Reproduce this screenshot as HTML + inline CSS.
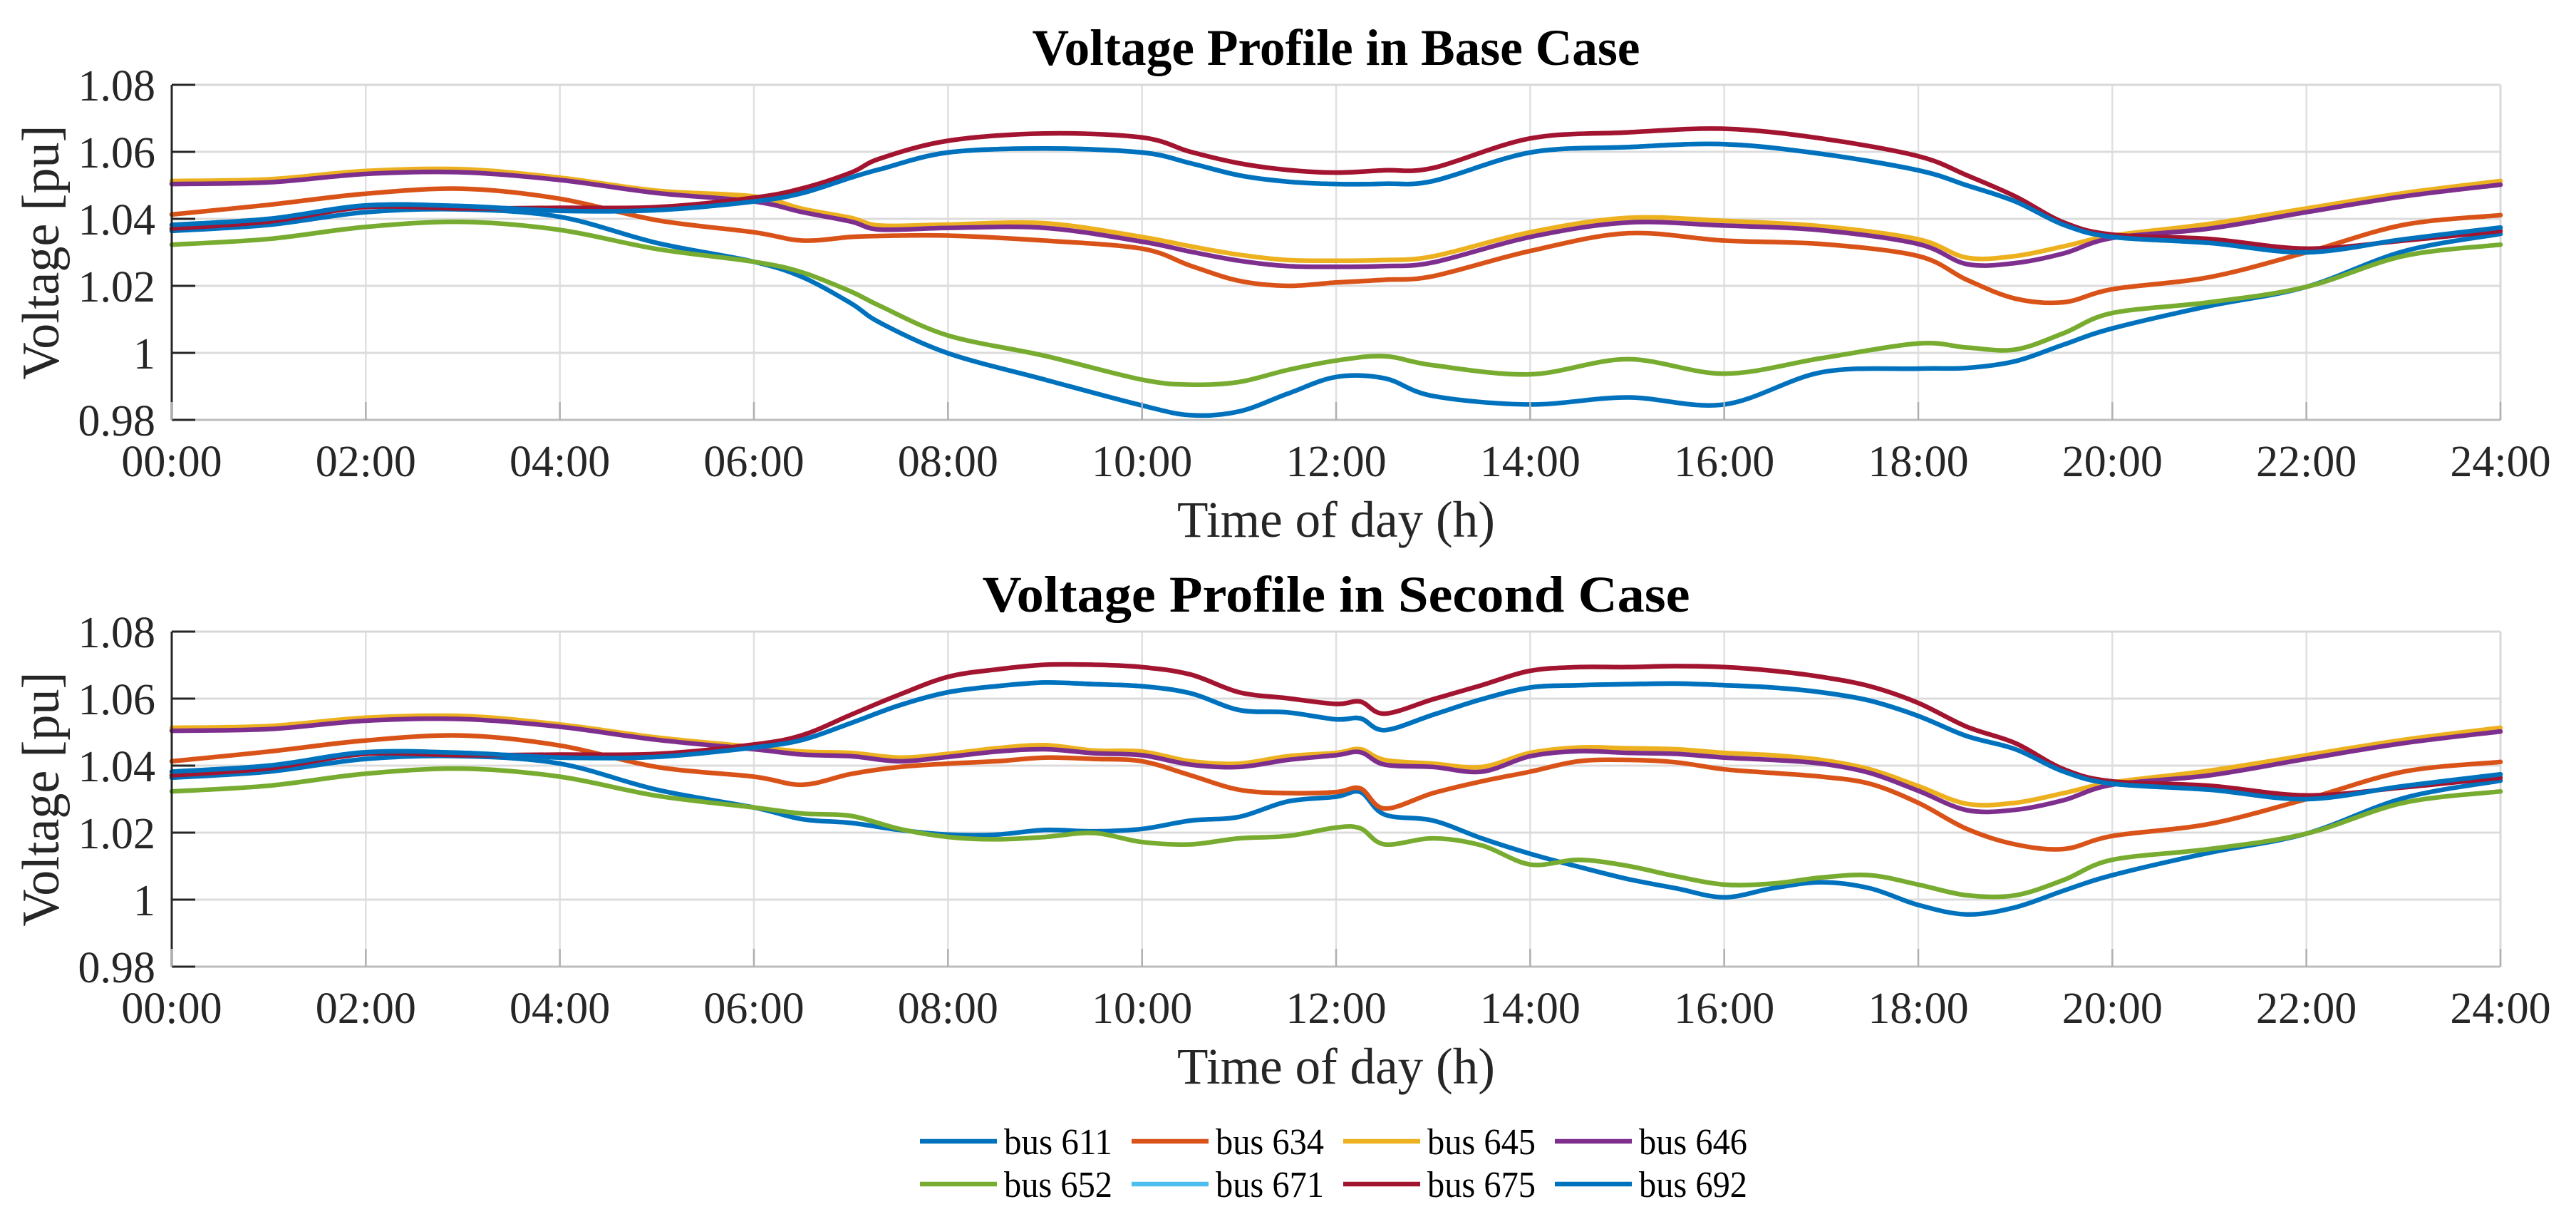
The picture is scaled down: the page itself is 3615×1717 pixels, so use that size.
<!DOCTYPE html>
<html><head><meta charset="utf-8"><title>Voltage Profile</title>
<style>
html,body{margin:0;padding:0;background:#fff;}
svg{display:block;}
text{font-family:"Liberation Serif","Times New Roman",serif;fill:#262626;}
</style></head>
<body>
<svg id="chart" width="3615" height="1717" viewBox="0 0 3615 1717" xmlns="http://www.w3.org/2000/svg">
<rect x="0" y="0" width="3615" height="1717" fill="#fff"/>
</svg>
<script>
// ---- data ----
const seriesNames = ["bus 611","bus 634","bus 645","bus 646","bus 652","bus 671","bus 675","bus 692"];
const seriesColors = ["#0072BD","#D95319","#EDB120","#7E2F8E","#77AC30","#4DBEEE","#A2142F","#0072BD"];
const xTickLabels = ["00:00","02:00","04:00","06:00","08:00","10:00","12:00","14:00","16:00","18:00","20:00","22:00","24:00"];
const yTickValues = [0.98,1.00,1.02,1.04,1.06,1.08];
const yTickLabels = ["0.98","1","1.02","1.04","1.06","1.08"];

const baseHours = [0,1,2,3,4,5,6,6.5,7,7.3,8,9,10,10.5,11,11.5,12,12.5,13,14,15,16,17,18,18.5,19,19.5,20,21,22,23,24];
const base611 = [1.0364,1.0382,1.0420,1.0428,1.0406,1.0328,1.0272,1.0226,1.0148,1.0090,0.9999,0.9920,0.9843,0.9814,0.9825,0.9878,0.9928,0.9924,0.9871,0.9846,0.9867,0.9846,0.9942,0.9953,0.9955,0.9975,1.0025,1.0073,1.0140,1.0197,1.0303,1.0355];
const base634 = [1.0413,1.0442,1.0475,1.0490,1.0460,1.0396,1.0360,1.0335,1.0346,1.0349,1.0350,1.0335,1.0311,1.0260,1.0215,1.0200,1.0210,1.0218,1.0229,1.0304,1.0357,1.0335,1.0325,1.0289,1.0218,1.0162,1.0151,1.0190,1.0226,1.0300,1.0382,1.0411];
const base645 = [1.0513,1.0518,1.0543,1.0548,1.0523,1.0484,1.0467,1.0430,1.0403,1.0380,1.0383,1.0387,1.0346,1.0318,1.0293,1.0277,1.0275,1.0277,1.0288,1.0360,1.0403,1.0394,1.0378,1.0339,1.0284,1.0289,1.0318,1.0350,1.0385,1.0431,1.0477,1.0513];
const base646 = [1.0504,1.0509,1.0534,1.0539,1.0516,1.0477,1.0452,1.0420,1.0392,1.0368,1.0373,1.0373,1.0332,1.0302,1.0275,1.0259,1.0257,1.0259,1.0270,1.0346,1.0389,1.0380,1.0366,1.0325,1.0265,1.0268,1.0297,1.0343,1.0371,1.0420,1.0467,1.0502];
const base652 = [1.0323,1.0340,1.0376,1.0391,1.0367,1.0310,1.0272,1.0240,1.0183,1.0140,1.0052,0.9991,0.9920,0.9905,0.9913,0.9949,0.9977,0.9990,0.9963,0.9936,0.9981,0.9938,0.9984,1.0028,1.0016,1.0010,1.0059,1.0119,1.0151,1.0197,1.0289,1.0323];
const base671 = [1.0382,1.0400,1.0440,1.0438,1.0424,1.0426,1.0452,1.0477,1.0523,1.0548,1.0598,1.0610,1.0598,1.0566,1.0530,1.0511,1.0504,1.0505,1.0513,1.0598,1.0614,1.0623,1.0594,1.0545,1.0500,1.0452,1.0382,1.0346,1.0328,1.0300,1.0339,1.0374];
const base675 = [1.0371,1.0392,1.0435,1.0431,1.0433,1.0435,1.0463,1.0491,1.0538,1.0580,1.0633,1.0655,1.0643,1.0600,1.0566,1.0546,1.0538,1.0545,1.0552,1.0640,1.0658,1.0669,1.0640,1.0587,1.0530,1.0467,1.0389,1.0353,1.0340,1.0311,1.0335,1.0364];
const base692 = [1.0382,1.0400,1.0440,1.0438,1.0424,1.0426,1.0452,1.0477,1.0523,1.0548,1.0598,1.0610,1.0598,1.0566,1.0530,1.0511,1.0504,1.0505,1.0513,1.0598,1.0614,1.0623,1.0594,1.0545,1.0500,1.0452,1.0382,1.0346,1.0328,1.0300,1.0339,1.0374];

const secHours = [0,1,2,3,4,5,6,6.5,7,7.5,8,8.5,9,9.5,10,10.5,11,11.5,12,12.25,12.5,13,13.5,14,14.5,15,15.5,16,16.5,17,17.5,18,18.5,19,19.5,20,21,22,23,24];
const sec611 = [1.0364,1.0382,1.0420,1.0428,1.0406,1.0328,1.0275,1.0240,1.0229,1.0208,1.0194,1.0194,1.0208,1.0204,1.0211,1.0236,1.0247,1.0293,1.0307,1.0321,1.0254,1.0236,1.0183,1.0137,1.0098,1.0062,1.0034,1.0007,1.0034,1.0052,1.0034,0.9984,0.9956,0.9977,1.0027,1.0073,1.0140,1.0197,1.0303,1.0355];
const sec634 = [1.0413,1.0442,1.0475,1.0490,1.0460,1.0396,1.0367,1.0343,1.0375,1.0396,1.0406,1.0413,1.0424,1.0420,1.0413,1.0371,1.0328,1.0318,1.0321,1.0332,1.0272,1.0318,1.0353,1.0382,1.0413,1.0417,1.0410,1.0389,1.0378,1.0367,1.0346,1.0289,1.0211,1.0165,1.0151,1.0190,1.0226,1.0300,1.0382,1.0411];
const sec645 = [1.0513,1.0518,1.0543,1.0548,1.0523,1.0484,1.0456,1.0442,1.0438,1.0424,1.0435,1.0452,1.0461,1.0445,1.0442,1.0413,1.0406,1.0428,1.0438,1.0449,1.0417,1.0406,1.0396,1.0438,1.0454,1.0452,1.0449,1.0438,1.0431,1.0417,1.0389,1.0339,1.0286,1.0289,1.0318,1.0350,1.0385,1.0431,1.0477,1.0513];
const sec646 = [1.0504,1.0509,1.0534,1.0539,1.0516,1.0477,1.0449,1.0433,1.0428,1.0413,1.0426,1.0442,1.0449,1.0437,1.0431,1.0403,1.0396,1.0417,1.0431,1.0440,1.0403,1.0396,1.0382,1.0428,1.0443,1.0438,1.0435,1.0424,1.0417,1.0406,1.0378,1.0325,1.0267,1.0268,1.0297,1.0343,1.0371,1.0420,1.0467,1.0502];
const sec652 = [1.0323,1.0340,1.0376,1.0391,1.0367,1.0310,1.0275,1.0257,1.0250,1.0211,1.0187,1.0180,1.0187,1.0199,1.0172,1.0165,1.0183,1.0190,1.0215,1.0213,1.0165,1.0183,1.0162,1.0105,1.0119,1.0101,1.0070,1.0045,1.0048,1.0066,1.0073,1.0045,1.0013,1.0013,1.0059,1.0119,1.0151,1.0197,1.0289,1.0323];
const sec671 = [1.0382,1.0400,1.0440,1.0438,1.0424,1.0426,1.0454,1.0477,1.0527,1.0580,1.0619,1.0637,1.0648,1.0643,1.0637,1.0616,1.0566,1.0559,1.0538,1.0541,1.0506,1.0552,1.0598,1.0633,1.0640,1.0643,1.0645,1.0640,1.0633,1.0619,1.0594,1.0548,1.0488,1.0449,1.0382,1.0346,1.0328,1.0300,1.0339,1.0374];
const sec675 = [1.0371,1.0392,1.0435,1.0431,1.0433,1.0435,1.0463,1.0491,1.0552,1.0612,1.0665,1.0687,1.0701,1.0701,1.0694,1.0672,1.0619,1.0601,1.0584,1.0591,1.0555,1.0598,1.0640,1.0683,1.0694,1.0694,1.0697,1.0694,1.0683,1.0665,1.0637,1.0587,1.0516,1.0467,1.0389,1.0353,1.0340,1.0311,1.0335,1.0364];
const sec692 = [1.0382,1.0400,1.0440,1.0438,1.0424,1.0426,1.0454,1.0477,1.0527,1.0580,1.0619,1.0637,1.0648,1.0643,1.0637,1.0616,1.0566,1.0559,1.0538,1.0541,1.0506,1.0552,1.0598,1.0633,1.0640,1.0643,1.0645,1.0640,1.0633,1.0619,1.0594,1.0548,1.0488,1.0449,1.0382,1.0346,1.0328,1.0300,1.0339,1.0374];

const baseSeries = [base611,base634,base645,base646,base652,base671,base675,base692];
const secSeries = [sec611,sec634,sec645,sec646,sec652,sec671,sec675,sec692];

// ---- drawing ----
const NS = "http://www.w3.org/2000/svg";
const svg = document.getElementById("chart");
function mk(tag, attrs, parent){
  const e = document.createElementNS(NS, tag);
  for (const k in attrs) e.setAttribute(k, attrs[k]);
  (parent||svg).appendChild(e);
  return e;
}
const X0 = 241, X1 = 3509, YMIN = 0.98, YMAX = 1.08, HMAX = 24;

function smoothPath(pts){
  let d = "M" + pts[0][0].toFixed(1) + "," + pts[0][1].toFixed(1);
  for (let i = 0; i < pts.length - 1; i++){
    const p0 = pts[Math.max(0,i-1)], p1 = pts[i], p2 = pts[i+1], p3 = pts[Math.min(pts.length-1,i+2)];
    const t = 1/6;
    const c1x = p1[0] + (p2[0]-p0[0])*t, c1y = p1[1] + (p2[1]-p0[1])*t;
    const c2x = p2[0] - (p3[0]-p1[0])*t, c2y = p2[1] - (p3[1]-p1[1])*t;
    d += " C" + c1x.toFixed(1) + "," + c1y.toFixed(1) + " " + c2x.toFixed(1) + "," + c2y.toFixed(1) + " " + p2[0].toFixed(1) + "," + p2[1].toFixed(1);
  }
  return d;
}

function drawPanel(key, top, bottom, title, titleLen, hours, series){
  const xS = h => X0 + (h / HMAX) * (X1 - X0);
  const yS = v => bottom - (v - YMIN) / (YMAX - YMIN) * (bottom - top);
  const g = mk("g", {});
  
  

  // grid
  const grid = mk("g", {}, g);
  
  
  for (let i = 0; i < xTickLabels.length; i++){
    const x = xS(i*2);
    const gl = mk("line", {x1:x, x2:x, y1:top, y2:bottom, stroke:"#e0e0e0", "stroke-width":2.5}, grid);
    
    
  }
  for (let i = 0; i < yTickValues.length; i++){
    const y = yS(yTickValues[i]);
    const gl = mk("line", {x1:X0, x2:X1, y1:y, y2:y, stroke:"#dcdcdc", "stroke-width":3}, grid);
    
    
  }
  // box
  mk("line", {x1:X0, x2:X1, y1:top, y2:top, stroke:"#d8d8d8", "stroke-width":3}, g);
  mk("line", {x1:X1, x2:X1, y1:top, y2:bottom, stroke:"#d8d8d8", "stroke-width":3}, g);
  const xa = mk("line", {x1:X0, x2:X1, y1:bottom, y2:bottom, stroke:"#bdbdbd", "stroke-width":3}, g);
  
  

  // series
  const sg = mk("g", {fill:"none", "stroke-width":6.5, "stroke-linejoin":"round", "stroke-linecap":"round"}, g);
  
  
  for (let s = 0; s < series.length; s++){
    const pts = hours.map((h, i) => [xS(h), yS(series[s][i])]);
    const p = mk("path", {d: smoothPath(pts), stroke: seriesColors[s]}, sg);
    
    
  }

  // y axis
  const ya = mk("line", {x1:X0, x2:X0, y1:top, y2:bottom, stroke:"#262626", "stroke-width":3}, g);
  
  
  for (let i = 0; i < yTickValues.length; i++){
    const y = yS(yTickValues[i]);
    mk("line", {x1:X0, x2:X0+33, y1:y, y2:y, stroke:"#262626", "stroke-width":3}, g);
    const t = mk("text", {x:218, y:y+22, "font-size":62, "text-anchor":"end"}, g);
    t.textContent = yTickLabels[i];
    
    
  }
  for (let i = 0; i < xTickLabels.length; i++){
    const x = xS(i*2);
    mk("line", {x1:x, x2:x, y1:bottom-25, y2:bottom, stroke:"#b0b0b0", "stroke-width":2.5}, g);
    const t = mk("text", {x:x, y:bottom+79, "font-size":62, "text-anchor":"middle"}, g);
    t.textContent = xTickLabels[i];
    
    
  }
  // titles
  const tt = mk("text", {x:(X0+X1)/2, y:top-28, "font-size":72, "font-weight":"bold", "text-anchor":"middle", textLength:titleLen, lengthAdjust:"spacingAndGlyphs"}, g);
  tt.textContent = title;
  
  
  tt.style.fill = "#000";
  const xl = mk("text", {x:1875, y:bottom+164, "font-size":72, "text-anchor":"middle", textLength:446, lengthAdjust:"spacingAndGlyphs"}, g);
  xl.textContent = "Time of day (h)";
  
  
  const cy = (top+bottom)/2;
  const yl = mk("text", {x:0, y:0, "font-size":74, "text-anchor":"middle", transform:"translate(82," + cy + ") rotate(-90)", textLength:357, lengthAdjust:"spacingAndGlyphs"}, g);
  yl.textContent = "Voltage [pu]";
  
  
}

drawPanel("base-case", 119, 589, "Voltage Profile in Base Case", 853, baseHours, baseSeries);
drawPanel("second-case", 886, 1356, "Voltage Profile in Second Case", 993, secHours, secSeries);

// legend
const lg = mk("g", {});


for (let i = 0; i < seriesNames.length; i++){
  const col = i % 4, row = Math.floor(i / 4);
  const x = 1291 + col * 297, y = 1601 + row * 60;
  const e = mk("g", {}, lg);
  
  
  mk("line", {x1:x, x2:x+108, y1:y, y2:y, stroke:seriesColors[i], "stroke-width":6.5}, e);
  const t = mk("text", {x:x+118, y:y+18, "font-size":52, textLength:152, lengthAdjust:"spacingAndGlyphs"}, e);
  t.textContent = seriesNames[i];
  t.style.fill = "#000";
  
  
}
</script>
</body></html>
